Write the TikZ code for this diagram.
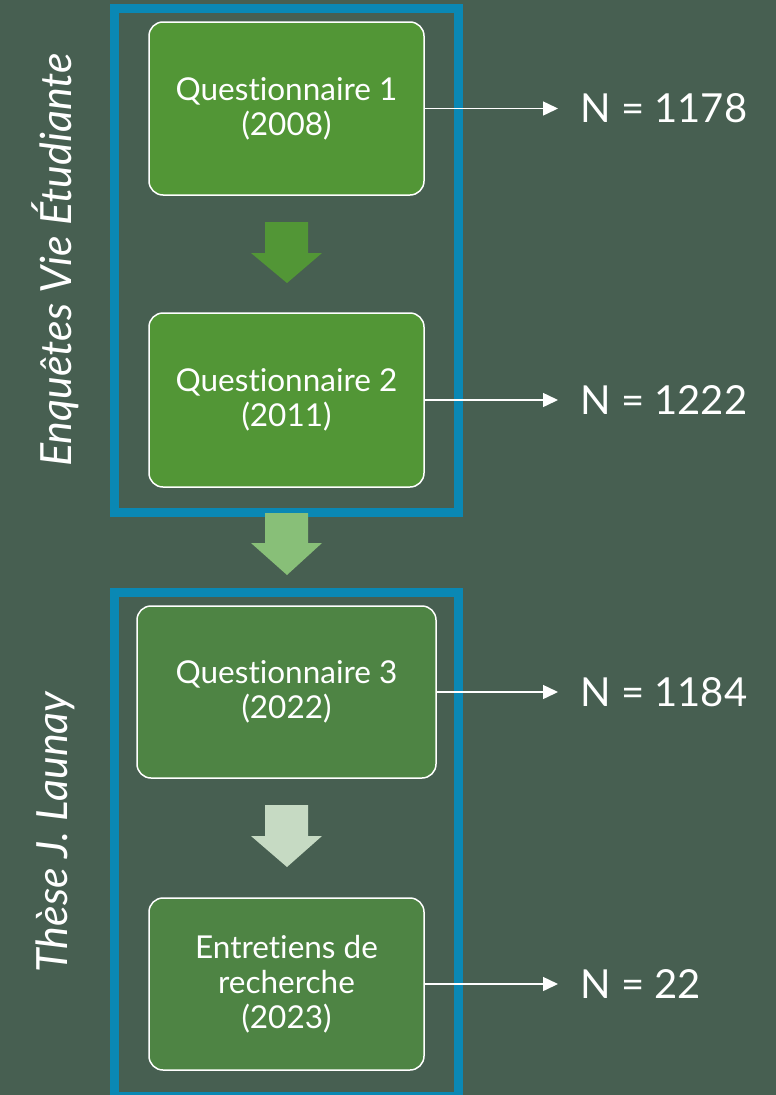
\documentclass[tikz,border=0pt]{standalone}
\usepackage{fontspec}
\setmainfont[Ligatures=NoCommon]{Lato}
\usetikzlibrary{arrows.meta}

\definecolor{bgslate}{HTML}{475F51}
\definecolor{frameblue}{HTML}{0A88B4}
\definecolor{stagegreen}{HTML}{529636}
\definecolor{thesisgreen}{HTML}{4E8444}
\definecolor{arrowmid}{HTML}{88BF78}
\definecolor{arrowpale}{HTML}{C6DAC3}

% block arrow pointing down: colour, top, neck, tip
\newcommand{\stagearrow}[4]{%
  \fill[#1] (265,#2) -- (308,#2) -- (308,#3) -- (322,#3) -- (287,#4)
    -- (251,#3) -- (265,#3) -- cycle;}

\begin{document}
\begin{tikzpicture}[x=1pt,y=-1pt,
  stage/.style={draw=white, line width=1.5pt, rounded corners=14pt,
    text=white, align=center, inner sep=0pt,
    font=\fontsize{31.5}{35}\selectfont},
  count/.style={text=white, anchor=west, inner xsep=22pt, inner ysep=0pt,
    font=\fontsize{40}{44}\selectfont},
  side/.style={text=white, rotate=90, font=\itshape\fontsize{43}{48}\selectfont},
  frame/.style={draw=frameblue, line width=9pt},
  link/.style={draw=white, line width=1.5pt,
    -{Triangle[length=15pt,width=14pt]}}]
\useasboundingbox[fill=bgslate] (0,0) rectangle (776,1095);

% the two studies
\draw[frame] (114.5,8.5) rectangle (458.5,512);
\draw[frame] (114.5,592) rectangle (458.5,1096);

\node[side] (evelabel) at (55,260) {Enquêtes Vie Étudiante};
\node[side] (theselabel) at (55,832) {Thèse J. Launay};

% stages
\node[stage, fill=stagegreen, minimum width=275pt, minimum height=173pt]
  (q1) at (286.5,108.5) {Questionnaire 1\\(2008)};
\node[stage, fill=stagegreen, minimum width=275pt, minimum height=174pt]
  (q2) at (286.5,400) {Questionnaire 2\\(2011)};
\node[stage, fill=thesisgreen, minimum width=299pt, minimum height=172pt]
  (q3) at (286.5,692) {Questionnaire 3\\(2022)};
\node[stage, fill=thesisgreen, minimum width=275pt, minimum height=172pt]
  (ent) at (286.5,984) {Entretiens de\\recherche\\(2023)};

\stagearrow{stagegreen}{222}{253}{283}
\stagearrow{arrowmid}{513}{543}{575}
\stagearrow{arrowpale}{805}{836}{867}

% sample sizes
\node[count] (n1) at (558,108.5) {N = 1178};
\node[count] (n2) at (558,400) {N = 1222};
\node[count] (n3) at (558,692) {N = 1184};
\node[count] (n4) at (558,984) {N = 22};

\foreach \s/\n in {q1/n1, q2/n2, q3/n3, ent/n4}
  \draw[link] (\s.east) -- (\s.east -| \n.west);
\end{tikzpicture}
\end{document}
